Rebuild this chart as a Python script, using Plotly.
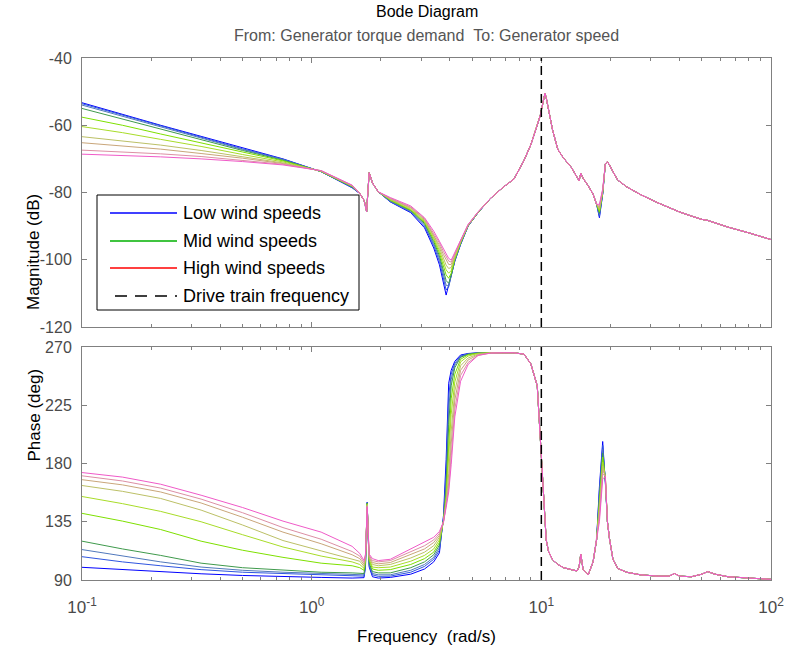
import plotly.graph_objects as go

# ---------------- data ----------------
SERIES_COLORS = ["#0000ff", "#2f55e0", "#5078bc", "#3f9a4c", "#7ee000",
                 "#a8dc28", "#bcc066", "#c9a67a", "#dc8fa4", "#f05ac8"]

# low-frequency segment (per series)
FREQ_LOW = [0.1, 0.15, 0.22, 0.33, 0.5, 0.75, 1.1, 1.5]
MAG_LOW = [
    [-53.3, -56.8, -60.0, -63.3, -66.8, -70.0, -73.8, -78.6],
    [-53.6, -57.0, -60.2, -63.5, -67.0, -70.1, -73.8, -78.5],
    [-54.0, -57.4, -60.6, -63.8, -67.2, -70.2, -73.8, -78.4],
    [-55.0, -58.2, -61.2, -64.3, -67.5, -70.4, -73.8, -78.3],
    [-57.6, -60.0, -62.6, -65.2, -68.0, -70.6, -73.7, -78.2],
    [-60.4, -62.2, -64.2, -66.3, -68.7, -70.9, -73.7, -78.1],
    [-63.4, -64.6, -65.9, -67.5, -69.3, -71.2, -73.6, -78.0],
    [-65.2, -66.1, -67.1, -68.4, -69.8, -71.4, -73.6, -78.0],
    [-67.4, -67.9, -68.5, -69.3, -70.4, -71.6, -73.5, -77.9],
    [-68.6, -69.0, -69.4, -70.0, -70.8, -71.8, -73.5, -77.8],
]
PHASE_LOW = [
    [99.8, 98.0, 96.5, 94.8, 93.5, 92.5, 92.0, 91.5],
    [108.0, 104.0, 101.0, 98.0, 96.0, 95.0, 94.0, 93.5],
    [113.5, 108.5, 104.0, 100.0, 97.5, 96.0, 95.0, 94.5],
    [120.0, 114.0, 109.0, 103.0, 99.5, 97.5, 96.0, 95.5],
    [141.5, 135.5, 129.0, 120.0, 113.0, 107.5, 103.0, 101.0],
    [154.5, 149.0, 143.0, 135.0, 125.0, 115.5, 108.5, 104.0],
    [163.0, 158.5, 153.0, 144.0, 132.5, 120.5, 112.5, 106.5],
    [167.5, 163.5, 158.0, 149.5, 138.5, 127.0, 118.0, 109.5],
    [170.5, 166.5, 161.0, 152.5, 142.0, 130.5, 121.5, 112.0],
    [173.0, 169.5, 164.0, 155.5, 146.0, 135.5, 127.0, 116.0],
]

# first notch (1.7 rad/s)
FREQ_NOTCH = [1.62, 1.69, 1.715, 1.735, 1.745, 1.76, 1.78, 1.84, 1.95]
MAG_NOTCH = [-80.3, -82.3, -83.8, -85.7, -83.0, -77.5, -74.1, -77.2, -79.8]
PHASE_NOTCH = [
    [91.5, 91.8, 100, 130, 150.0, 128, 100, 92.5, 91.5],
    [93.0, 93.0, 101, 130, 150.0, 128, 101, 94.0, 92.8],
    [94.0, 94.0, 102, 130, 149.5, 128, 102, 95.0, 94.0],
    [95.5, 95.0, 103, 130, 149.5, 128, 103, 96.5, 95.5],
    [99.5, 97.5, 105, 131, 149.0, 129, 105, 98.5, 97.5],
    [102.0, 99.0, 106, 131, 148.5, 129, 106, 100.0, 99.5],
    [104.5, 100.5, 107, 131, 148.0, 129, 107, 102.0, 101.0],
    [106.5, 102.0, 108, 132, 147.5, 130, 108, 103.5, 102.5],
    [108.5, 103.5, 109, 132, 147.0, 130, 109, 105.0, 104.0],
    [110.5, 105.0, 110, 132, 146.5, 130, 110, 106.5, 105.0],
]

# anti-resonance (~4 rad/s)
FREQ_ANTI = [2.2, 2.7, 3.1, 3.4, 3.6, 3.75, 3.85, 3.95, 4.05, 4.2, 4.45, 4.8, 5.3, 6.0]
MAG_ANTI = [
    [-82.8, -86.0, -90.5, -96.5, -101.5, -106.5, -110.5, -107.5, -104.5, -100.5, -95.5, -90.0, -86.0, -81.8],
    [-82.7, -85.8, -90.0, -95.8, -100.5, -105.5, -109.0, -108.0, -104.8, -100.3, -95.4, -90.0, -86.0, -81.8],
    [-82.6, -85.6, -89.6, -95.2, -99.6, -104.3, -107.6, -107.8, -104.8, -100.2, -95.3, -89.9, -86.0, -81.8],
    [-82.4, -85.4, -89.2, -94.6, -98.8, -103.2, -106.2, -107.0, -104.6, -100.0, -95.2, -89.9, -86.0, -81.8],
    [-82.3, -85.2, -88.9, -94.0, -98.0, -102.0, -104.5, -105.5, -104.0, -99.8, -95.0, -89.8, -85.9, -81.8],
    [-82.1, -85.0, -88.6, -93.5, -97.2, -100.8, -103.0, -104.0, -103.2, -99.5, -94.8, -89.8, -85.9, -81.8],
    [-82.0, -84.7, -88.3, -93.0, -96.4, -99.6, -101.6, -102.6, -102.3, -99.0, -94.6, -89.7, -85.9, -81.8],
    [-81.8, -84.5, -88.0, -92.5, -95.7, -98.5, -100.2, -101.4, -101.4, -98.6, -94.4, -89.6, -85.8, -81.8],
    [-81.7, -84.3, -87.7, -92.0, -95.0, -97.6, -99.2, -100.4, -100.7, -98.2, -94.3, -89.6, -85.8, -81.8],
    [-81.5, -84.0, -87.5, -91.5, -94.5, -96.8, -98.3, -99.6, -100.1, -97.8, -94.2, -89.5, -85.8, -81.8],
]
PHASE_ANTI = [
    [92.0, 94.5, 98.5, 104.0, 111.0, 140.0, 183.0, 242.0, 252.0, 259.0, 263.8, 265.0, 265.5, 265.5],
    [93.0, 96.0, 100.5, 106.0, 113.0, 138.0, 172.0, 232.0, 249.0, 257.5, 263.0, 264.8, 265.5, 265.5],
    [94.0, 97.5, 102.0, 107.5, 115.0, 137.0, 166.0, 222.0, 245.0, 256.0, 262.5, 264.6, 265.4, 265.5],
    [95.5, 99.5, 104.0, 109.5, 117.0, 136.5, 160.0, 210.0, 240.0, 254.0, 262.0, 264.4, 265.3, 265.5],
    [98.0, 102.0, 106.5, 111.5, 119.0, 136.0, 155.0, 196.0, 230.0, 249.0, 260.5, 264.0, 265.2, 265.5],
    [100.0, 104.5, 109.0, 114.0, 121.0, 135.5, 152.0, 182.0, 218.0, 243.0, 258.5, 263.0, 265.0, 265.5],
    [102.0, 107.0, 111.5, 116.5, 123.0, 135.5, 150.0, 172.0, 205.0, 236.0, 255.5, 261.5, 264.5, 265.4],
    [103.5, 109.5, 114.0, 119.0, 124.5, 135.0, 148.0, 165.0, 195.0, 229.0, 252.0, 260.0, 264.0, 265.4],
    [105.0, 111.5, 116.5, 121.0, 126.0, 135.0, 147.0, 161.0, 186.0, 222.0, 248.0, 258.0, 263.5, 265.3],
    [106.0, 114.0, 119.0, 123.0, 127.5, 135.0, 146.0, 158.0, 179.0, 216.0, 243.5, 256.5, 263.5, 265.3],
]

# drive-train resonance region (shared)
FREQ_RES = [6.8, 7.6, 8.4, 9.0, 9.6, 9.9, 10.15, 10.37, 10.5, 10.75, 11.2, 11.8,
            12.5, 13.5, 14.3, 14.6, 14.85, 15.2, 16.0, 16.8, 17.4]
MAG_RES = [-78.5, -76.0, -70.5, -65.8, -60.0, -57.0, -53.5, -50.5, -51.8, -55.2, -61.5, -67.2,
           -69.8, -72.5, -75.5, -76.5, -74.3, -75.8, -78.0, -80.5, -83.5]
PHASE_RES = [265.5, 265.5, 264.5, 257.0, 240.0, 198.0, 160.0, 136.0, 121.0, 112.0, 105.5, 102.0,
             99.5, 98.0, 97.0, 100.0, 110.0, 98.0, 94.0, 104.0, 121.0]

# second mode (~18.5 rad/s, per series)
FREQ_SPIKE = [17.9, 18.5, 19.0]
MAG_SPIKE = [
    [-87.5, -80.5, -71.5], [-87.1, -80.4, -71.5], [-86.6, -80.3, -71.5],
    [-86.2, -80.1, -71.5], [-85.7, -80.0, -71.5], [-85.3, -79.8, -71.5],
    [-84.8, -79.6, -71.5], [-84.4, -79.4, -71.5], [-83.9, -79.2, -71.5],
    [-83.5, -79.0, -71.5],
]
PHASE_SPIKE = [
    [162, 197, 165], [159, 194, 166], [156, 191, 167], [153, 188, 168],
    [150, 185, 168], [147, 181, 169], [144, 178, 170], [141, 175, 170],
    [138, 172, 170], [135, 168, 170],
]

# high-frequency tail (shared)
FREQ_HIGH = [19.4, 19.8, 20.5, 21.5, 23.5, 27, 32, 36, 38, 40, 45, 50, 53, 57, 65, 80, 100]
MAG_HIGH = [-70.9, -71.8, -73.8, -76.3, -78.3, -80.6, -83.0, -84.5, -85.3, -85.8,
            -87.0, -88.0, -88.3, -89.0, -90.3, -92.0, -94.0]
PHASE_HIGH = [135, 122, 106, 99, 96, 94, 93, 93, 95, 93, 92.5, 94.5, 96.5, 94.5, 92.5, 91.5, 90.5]

DRIVE_TRAIN_FREQ = 10.0

LEGEND_NAMES = ["Low wind speeds", "Mid wind speeds", "High wind speeds", "Drive train frequency"]
LEGEND_COLORS = ["#0000ff", "#00b000", "#ff0000", "#000000"]
LEGEND_DASH = ["solid", "solid", "solid", "12px,8px"]

X_TICKS = [0.1, 1, 10, 100]
X_TICK_TEXT = ["10<sup>-1</sup>", "10<sup>0</sup>", "10<sup>1</sup>", "10<sup>2</sup>"]
X_MINOR = [m * d for d in (0.1, 1, 10) for m in range(2, 10)]
MAG_TICKS = [-120, -100, -80, -60, -40]
MAG_TICK_TEXT = ["-120", "-100", "-80", "-60", "-40"]
PHASE_TICKS = [90, 135, 180, 225, 270]
PHASE_TICK_TEXT = ["90", "135", "180", "225", "270"]

# ---------------- figure ----------------
FONT = "Liberation Sans, Arial, sans-serif"
W, H = 785, 651
ML, MR, MT, MB = 82, 14, 58, 71
PW, PH = W - ML - MR, H - MT - MB


def px_x(px):
    return (px - ML) / PW


def px_y(py):
    return 1 - (py - MT) / PH


fig = go.Figure()

for i, col in enumerate(SERIES_COLORS):
    f = FREQ_LOW + FREQ_NOTCH + FREQ_ANTI + FREQ_RES + FREQ_SPIKE + FREQ_HIGH
    mag = MAG_LOW[i] + MAG_NOTCH + MAG_ANTI[i] + MAG_RES + MAG_SPIKE[i] + MAG_HIGH
    ph = PHASE_LOW[i] + PHASE_NOTCH[i] + PHASE_ANTI[i] + PHASE_RES + PHASE_SPIKE[i] + PHASE_HIGH
    fig.add_trace(go.Scatter(x=f, y=mag, mode="lines", line=dict(color=col, width=1),
                             xaxis="x", yaxis="y", showlegend=False, hoverinfo="skip"))
    fig.add_trace(go.Scatter(x=f, y=ph, mode="lines", line=dict(color=col, width=1),
                             xaxis="x2", yaxis="y2", showlegend=False, hoverinfo="skip"))

# drive train frequency marker in both panes
for xr, yref in (("x", "y domain"), ("x2", "y2 domain")):
    fig.add_shape(type="line", xref=xr, yref=yref, x0=DRIVE_TRAIN_FREQ, x1=DRIVE_TRAIN_FREQ,
                  y0=0, y1=1, line=dict(color="black", width=1.5, dash="9px,5px"), layer="above")

# legend box (drawn as in the MATLAB figure)
fig.add_shape(type="rect", xref="paper", yref="paper", x0=px_x(97), x1=px_x(359),
              y0=px_y(310), y1=px_y(195), line=dict(color="black", width=1),
              fillcolor="white", layer="above")
ROW_Y = [213, 241, 268, 296]
for name, col, dash, ry in zip(LEGEND_NAMES, LEGEND_COLORS, LEGEND_DASH, ROW_Y):
    x_start = 110 if dash == "solid" else 115
    fig.add_shape(type="line", xref="paper", yref="paper", x0=px_x(x_start), x1=px_x(177),
                  y0=px_y(ry), y1=px_y(ry), line=dict(color=col, width=1.3, dash=dash),
                  layer="above")
    fig.add_annotation(text=name, xref="paper", yref="paper", x=px_x(181), y=px_y(ry),
                       xanchor="left", yanchor="middle", showarrow=False,
                       font=dict(family=FONT, size=18, color="black"))

AX_COL = "#808080"
YTICK_FONT = dict(family=FONT, size=16, color="#4a4a4a")
XTICK_FONT = dict(family=FONT, size=17, color="#4a4a4a")

xcommon = dict(type="log", range=[-1, 2], tickvals=X_TICKS, ticks="inside", ticklen=5,
               tickcolor=AX_COL, showline=True, linecolor=AX_COL, linewidth=1, mirror="ticks",
               showgrid=False, zeroline=False, automargin=False,
               minor=dict(tickvals=X_MINOR, ticks="inside", ticklen=3, tickcolor=AX_COL, showgrid=False))
ycommon = dict(ticks="inside", ticklen=5, tickcolor=AX_COL, showline=True, linecolor=AX_COL,
               linewidth=1, mirror="ticks", showgrid=False, zeroline=False, tickfont=YTICK_FONT,
               ticklabelstandoff=6, automargin=False)

fig.update_layout(
    template="none",
    width=W, height=H,
    margin=dict(l=ML, r=MR, t=MT, b=MB, autoexpand=False),
    paper_bgcolor="white", plot_bgcolor="white",
    font=dict(family=FONT, size=16, color="#000000"),
    xaxis=dict(xcommon, domain=[0, 1], anchor="y", showticklabels=False, matches="x2"),
    xaxis2=dict(xcommon, domain=[0, 1], anchor="y2", ticktext=X_TICK_TEXT, tickfont=XTICK_FONT,
                ticklabelstandoff=12),
    yaxis=dict(ycommon, domain=[1 - 269 / PH, 1.0], anchor="x", range=[-120, -40],
               tickvals=MAG_TICKS, ticktext=MAG_TICK_TEXT),
    yaxis2=dict(ycommon, domain=[0.0, 233 / PH], anchor="x2", range=[90, 270],
                tickvals=PHASE_TICKS, ticktext=PHASE_TICK_TEXT),
    showlegend=False,
)

fig.add_annotation(text="Bode Diagram", xref="paper", yref="paper", x=0.5, y=px_y(12),
                   showarrow=False, font=dict(family=FONT, size=16, color="black"), yanchor="middle")
fig.add_annotation(text="From: Generator torque demand&nbsp;&nbsp;To: Generator speed", xref="paper",
                   yref="paper", x=0.5, y=px_y(35), showarrow=False, yanchor="middle",
                   font=dict(family=FONT, size=16, color="#555555"))
fig.add_annotation(text="Magnitude (dB)", xref="paper", yref="paper", x=px_x(22),
                   y=(px_y(58) + px_y(327)) / 2, textangle=-90, showarrow=False,
                   font=dict(family=FONT, size=17, color="black"))
fig.add_annotation(text="Phase (deg)", xref="paper", yref="paper", x=px_x(22),
                   y=(px_y(347) + px_y(580)) / 2, textangle=-90, showarrow=False,
                   font=dict(family=FONT, size=17, color="black"))
fig.add_annotation(text="Frequency&nbsp;&nbsp;(rad/s)", xref="paper", yref="paper", x=0.5,
                   y=px_y(636), showarrow=False, yanchor="middle",
                   font=dict(family=FONT, size=17, color="black"))

fig.write_html("out.html")
